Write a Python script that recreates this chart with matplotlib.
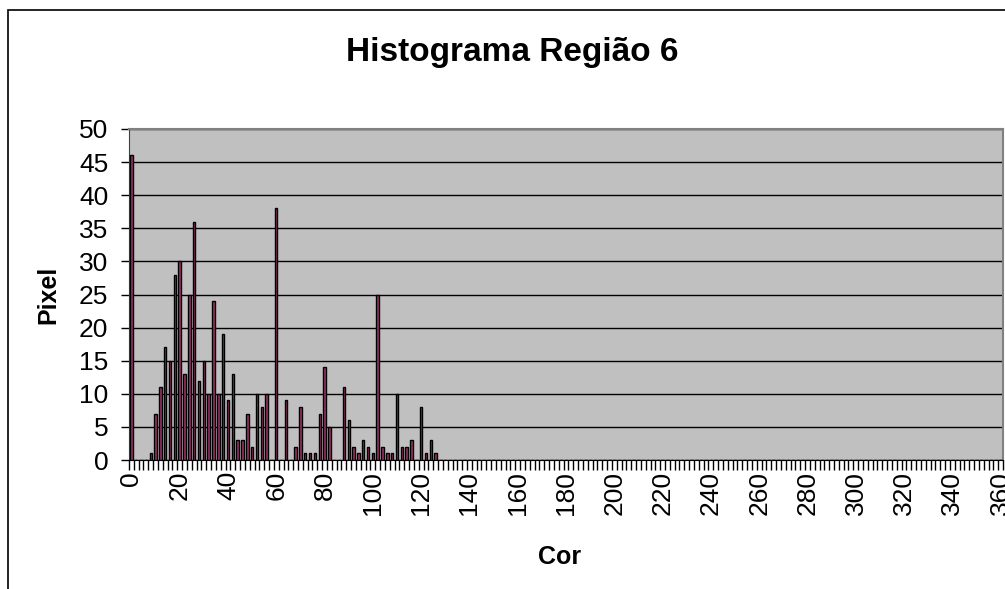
import matplotlib.pyplot as plt
from matplotlib.patches import Rectangle
import numpy as np

# hue values (0..360 step 2) and pixel counts
cores = np.arange(0, 362, 2)
nonzero = {
    0: 46, 8: 1, 10: 7, 12: 11, 14: 17, 16: 15, 18: 28, 20: 30, 22: 13,
    24: 25, 26: 36, 28: 12, 30: 15, 32: 10, 34: 24, 36: 10, 38: 19, 40: 9,
    42: 13, 44: 3, 46: 3, 48: 7, 50: 2, 52: 10, 54: 8, 56: 10, 60: 38,
    64: 9, 68: 2, 70: 8, 72: 1, 74: 1, 76: 1, 78: 7, 80: 14, 82: 5,
    88: 11, 90: 6, 92: 2, 94: 1, 96: 3, 98: 2, 100: 1, 102: 25, 104: 2,
    106: 1, 108: 1, 110: 10, 112: 2, 114: 2, 116: 3, 120: 8, 122: 1,
    124: 3, 126: 1,
}
pixels = [nonzero.get(c, 0) for c in cores]
tick_labels = [str(c) for c in range(0, 361, 20)]

plt.rcParams['font.family'] = ['Liberation Sans', 'DejaVu Sans']

fig = plt.figure(figsize=(10.05, 5.89), dpi=100)
fig.patches.append(Rectangle((8 / 1005, -0.1), 1.2, 1 - 10 / 589 + 0.1,
                             transform=fig.transFigure, fill=False,
                             edgecolor='black', linewidth=1.2))
ax = fig.add_axes([129 / 1005, 1 - 460 / 589, 874 / 1005, 331 / 589])
ax.set_facecolor('#C0C0C0')

ax.bar(cores, pixels, width=1.0, color='#993366', edgecolor='black',
       linewidth=1.0, zorder=3)

ax.set_xlim(-1, 361)
ax.set_ylim(0, 50)
ax.set_yticks(range(0, 51, 5))
ax.yaxis.grid(True, color='black', linewidth=1.0, zorder=1)
ax.set_xticks(range(0, 361, 20))
ax.set_xticklabels(tick_labels, rotation=90)
ax.set_xticks(np.arange(-1, 362, 2), minor=True)
ax.tick_params(axis='x', which='major', length=0, labelsize=19, pad=8)
ax.tick_params(axis='x', which='minor', length=7, width=1, color='black')
ax.tick_params(axis='y', length=6, width=1, labelsize=19, pad=9)

for side in ['top', 'right']:
    ax.spines[side].set_color('#808080')
    ax.spines[side].set_linewidth(1.5)
ax.spines['left'].set_color('#404040')
ax.spines['bottom'].set_color('black')

fig.text(512 / 1005, 1 - 52 / 589, 'Histograma Região 6', fontsize=24,
         fontweight='bold', ha='center', va='center')
ax.set_xlabel('Cor', fontsize=18, fontweight='bold', va='center')
ax.set_ylabel('Pixel', fontsize=18, fontweight='bold', va='center')
ax.xaxis.set_label_coords((560 - 129) / 874, (460 - 557) / 331)
ax.yaxis.set_label_coords((48 - 129) / 874, (460 - 295) / 331)

plt.savefig('out.png', dpi=100)
